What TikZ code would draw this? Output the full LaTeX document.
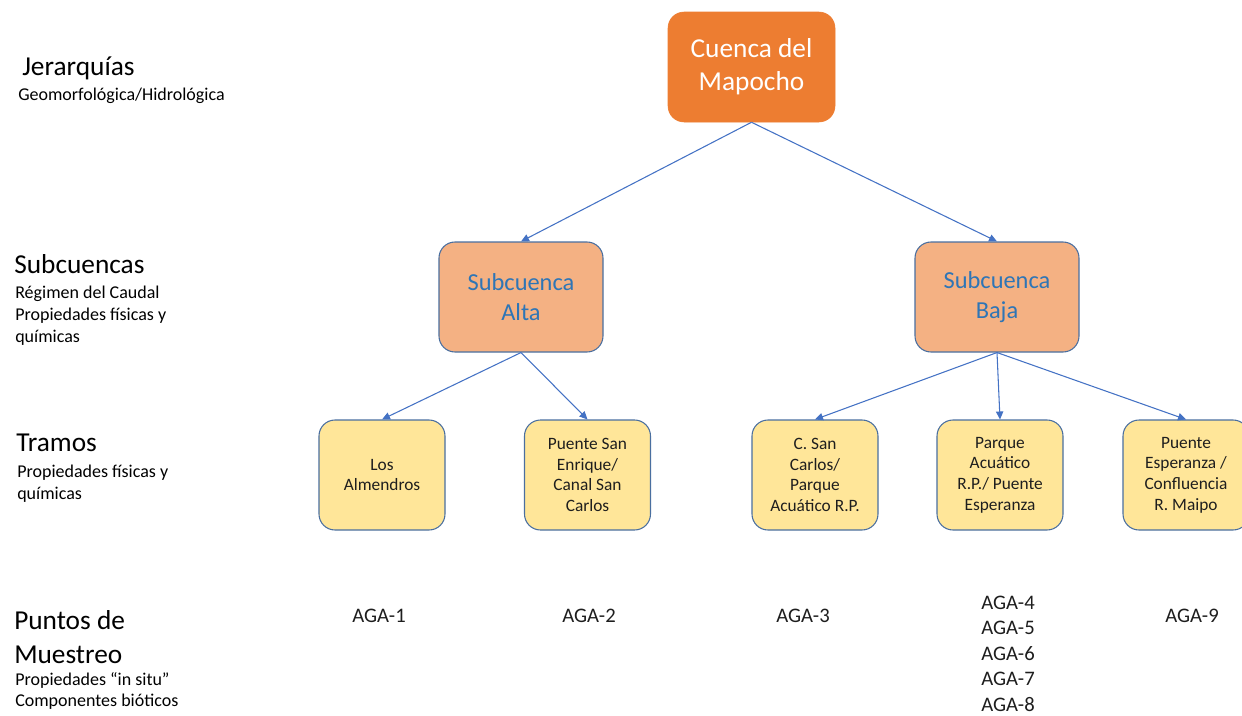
\documentclass[tikz,border=0pt]{standalone}
\usepackage{fontspec}
\setmainfont{Carlito}
\usetikzlibrary{arrows.meta}
\definecolor{basin}{HTML}{ED7D31}
\definecolor{subbasin}{HTML}{F4B183}
\definecolor{reach}{HTML}{FFE699}
\definecolor{edgeblue}{HTML}{4A6FA0}
\definecolor{linkblue}{HTML}{4472C4}
\definecolor{subtext}{HTML}{2E75B6}
\definecolor{ink}{HTML}{1E1E1E}

\begin{document}
\begin{tikzpicture}[x=0.75pt, y=-0.75pt,
  box/.style={rounded corners=12pt, align=center, inner sep=2pt, minimum height=82.5pt},
  basinbox/.style={box, fill=basin, draw=basin, text=white, minimum width=125.25pt,
    font=\fontsize{20.5}{24.75}\selectfont},
  subbox/.style={box, fill=subbasin, draw=edgeblue, line width=0.8pt, text=subtext,
    minimum width=123pt, font=\fontsize{18.3}{22.5}\selectfont},
  reachbox/.style={box, fill=reach, draw=edgeblue, line width=0.8pt, text=ink,
    minimum width=94.5pt, font=\fontsize{13}{15.5}\selectfont},
  link/.style={draw=linkblue, line width=0.8pt, -{Triangle[length=6pt,width=5.5pt]}},
  heading/.style={anchor=base west, inner sep=0pt, text=black, font=\fontsize{20.5}{25}\selectfont},
  note/.style={anchor=base west, inner sep=0pt, text=black, font=\fontsize{13.5}{16.5}\selectfont},
  aga/.style={anchor=base, inner sep=0pt, text=ink, font=\fontsize{15.5}{19}\selectfont}]

\useasboundingbox (0,0) rectangle (1242,715);

% hierarchy labels on the left
\node[heading] (jer) at (22,75) {Jerarquías};
\node[note] (jerd) at (18,100) {Geomorfológica/Hidrológica};

\node[heading] (sub) at (14,273) {Subcuencas};
\node[note] (subd1) at (15,298) {Régimen del Caudal};
\node[note] (subd2) at (15,320) {Propiedades físicas y};
\node[note] (subd3) at (15,342) {químicas};

\node[heading] (tra) at (16,451) {Tramos};
\node[note] (trad1) at (17,477) {Propiedades físicas y};
\node[note] (trad2) at (17,499) {químicas};

\node[heading] (pun1) at (14,629) {Puntos de};
\node[heading] (pun2) at (14,663) {Muestreo};
\node[note] (pund1) at (15,685) {Propiedades “in situ”};
\node[note] (pund2) at (15,706) {Componentes bióticos};

% basin and sub-basins
\node[basinbox] (cuenca) at (751.5,67) {\rule{0pt}{4pt}Cuenca del\\Mapocho};
\node[subbox] (alta) at (521,297) {Subcuenca\\Alta};
\node[subbox] (baja) at (997,297) {Subcuenca\\Baja};

% river reaches
\node[reachbox] (t1) at (382,475) {Los\\Almendros};
\node[reachbox] (t2) at (587.5,475) {Puente San\\Enrique/\\Canal San\\Carlos};
\node[reachbox] (t3) at (815,475) {C. San\\Carlos/\\Parque\\Acuático R.P.};
\node[reachbox] (t4) at (1000,475) {Parque\\Acuático\\R.P./ Puente\\Esperanza};
\node[reachbox] (t5) at (1186,475) {Puente\\Esperanza /\\Confluencia\\R. Maipo};

% connectors
\draw[link] (cuenca.south) -- (alta.north);
\draw[link] (cuenca.south) -- (baja.north);
\draw[link] (alta.south) -- (t1.north);
\draw[link] (alta.south) -- (t2.north);
\draw[link] (baja.south) -- (t3.north);
\draw[link] (baja.south) -- (t4.north);
\draw[link] (baja.south) -- (t5.north);

% sampling points
\node[aga] (a1) at (379,622) {AGA-1};
\node[aga] (a2) at (589,622) {AGA-2};
\node[aga] (a3) at (803,622) {AGA-3};
\node[aga] (a4) at (1008,609) {AGA-4};
\node[aga] (a5) at (1008,634.5) {AGA-5};
\node[aga] (a6) at (1008,660) {AGA-6};
\node[aga] (a7) at (1008,685.5) {AGA-7};
\node[aga] (a8) at (1008,711) {AGA-8};
\node[aga] (a9) at (1192,622) {AGA-9};
\end{tikzpicture}
\end{document}
